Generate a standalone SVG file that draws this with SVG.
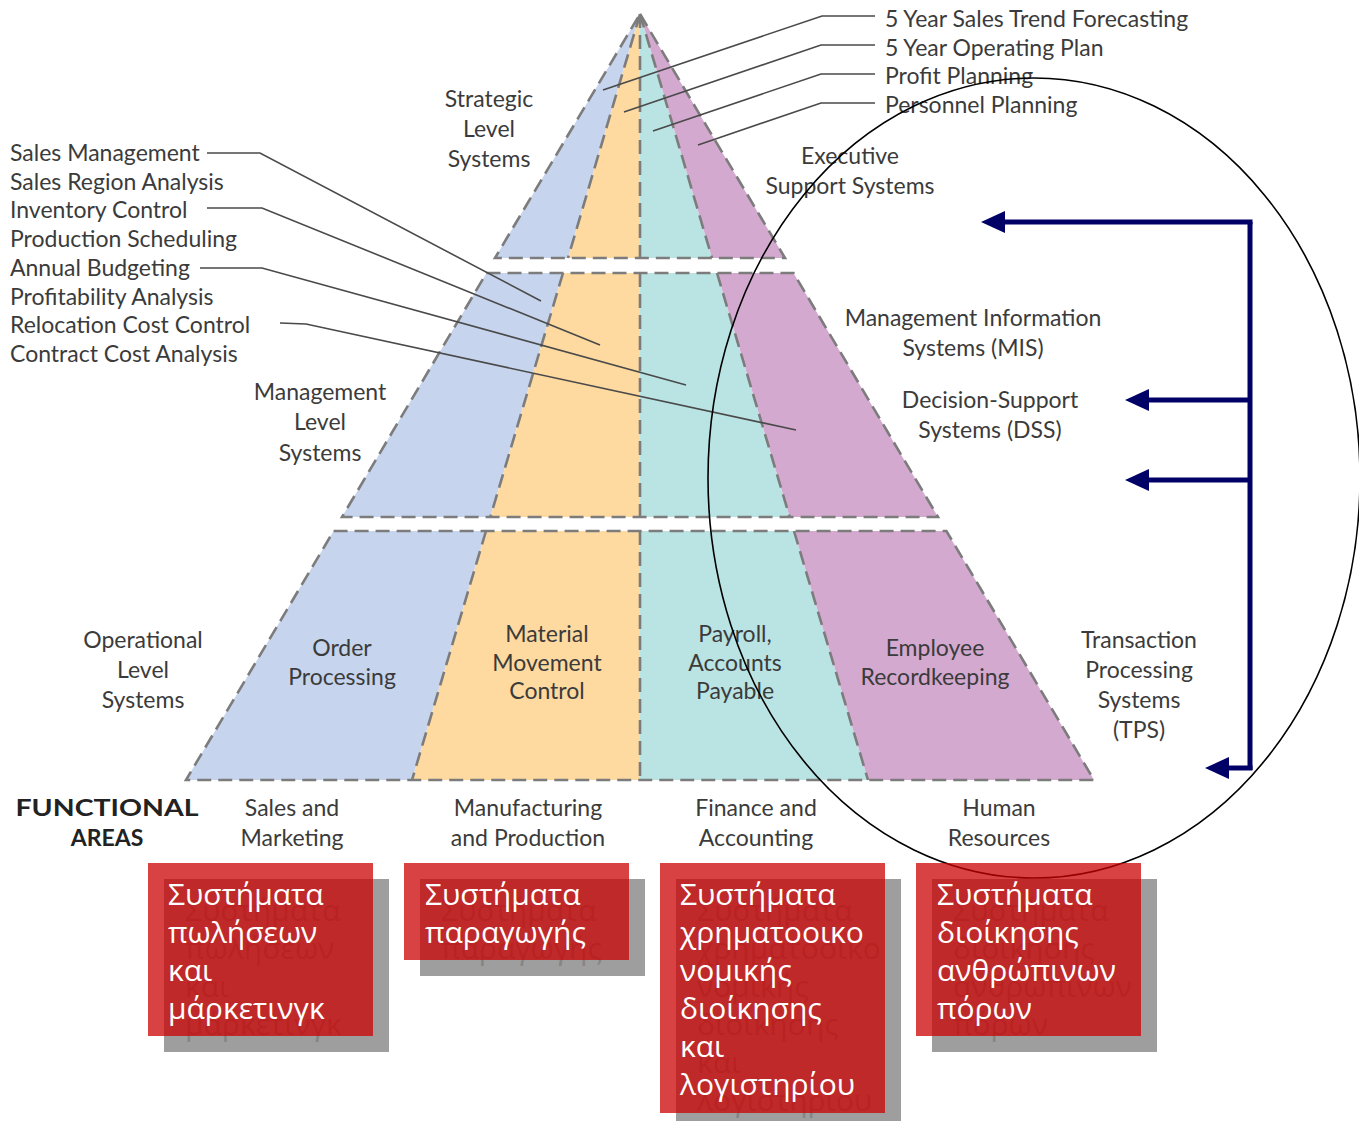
<svg xmlns="http://www.w3.org/2000/svg" width="1359" height="1121" viewBox="0 0 1359 1121">
<defs>
<style>
.t{font-family:Lato,"Liberation Sans",sans-serif;font-size:23px;fill:#3b3b3b}
.tm{text-anchor:middle}
.b{font-weight:bold;fill:#222}
.dash{fill:none;stroke:#7c7c7c;stroke-width:2.6;stroke-dasharray:14 7}
.blue{fill:#c6d4ed}
.orange{fill:#fed9a0}
.teal{fill:#bae3e3}
.purple{fill:#d4a9d0}
.lead{fill:none;stroke:#4a4a4a;stroke-width:1.6}
.nav{fill:none;stroke:#000066;stroke-width:5}
.shadow{fill:#9e9e9e}
.shtxt{font-family:"Open Sans","Noto Sans",sans-serif;font-size:30px;fill:#858585}
.red{fill:#cc0000;fill-opacity:0.74}
.wtxt{font-family:"Open Sans","Noto Sans",sans-serif;font-size:30px;fill:#ffffff}
</style>
<marker id="ah" markerWidth="24" markerHeight="22" refX="4" refY="11" orient="auto" markerUnits="userSpaceOnUse">
<path d="M0,0 L24,11 L0,22 z" fill="#000066"/>
</marker>
</defs>
<rect width="1359" height="1121" fill="#ffffff"/>

<g id="tier-strategic">
<polygon class="blue" points="640,14 495,258 568,258"/>
<polygon class="orange" points="640,14 568,258 640,258"/>
<polygon class="teal" points="640,14 640,258 712,258"/>
<polygon class="purple" points="640,14 712,258 785,258"/>
<polygon class="dash" points="640,14 785,258 495,258"/>
<path class="dash" d="M640,14 L568,258 M640,14 L640,258 M640,14 L712,258"/>
</g>

<g id="tier-management">
<polygon class="blue" points="486.5,273 563,273 490.3,517 342,517"/>
<polygon class="orange" points="563,273 640,273 640,517 490.3,517"/>
<polygon class="teal" points="640,273 717,273 789.7,517 640,517"/>
<polygon class="purple" points="717,273 793.5,273 938,517 789.7,517"/>
<polygon class="dash" points="486.5,273 793.5,273 938,517 342,517"/>
<path class="dash" d="M563,273 L490.3,517 M640,273 L640,517 M717,273 L789.7,517"/>
</g>

<g id="tier-operational">
<polygon class="blue" points="333.6,531 486,531 412,780 186,780"/>
<polygon class="orange" points="486,531 640,531 640,780 412,780"/>
<polygon class="teal" points="640,531 794,531 868,780 640,780"/>
<polygon class="purple" points="794,531 946.4,531 1094,780 868,780"/>
<polygon class="dash" points="333.6,531 946.4,531 1094,780 186,780"/>
<path class="dash" d="M486,531 L412,780 M640,531 L640,780 M794,531 L868,780"/>
</g>

<g id="label-strategic" class="t tm">
<text x="489" y="107">Strategic</text>
<text x="489" y="137">Level</text>
<text x="489" y="167">Systems</text>
</g>
<g id="label-ess" class="t tm">
<text x="850" y="164">Executive</text>
<text x="850" y="194">Support Systems</text>
</g>
<g id="label-mis" class="t tm">
<text x="973" y="326">Management Information</text>
<text x="973" y="356">Systems (MIS)</text>
</g>
<g id="label-dss" class="t tm">
<text x="990" y="408">Decision-Support</text>
<text x="990" y="438">Systems (DSS)</text>
</g>
<g id="label-management" class="t tm">
<text x="320" y="400">Management</text>
<text x="320" y="430">Level</text>
<text x="320" y="461">Systems</text>
</g>
<g id="label-operational" class="t tm">
<text x="143" y="648">Operational</text>
<text x="143" y="678">Level</text>
<text x="143" y="708">Systems</text>
</g>
<g id="label-tps" class="t tm">
<text x="1139" y="648">Transaction</text>
<text x="1139" y="678">Processing</text>
<text x="1139" y="708">Systems</text>
<text x="1139" y="738">(TPS)</text>
</g>
<g id="cell-order" class="t tm">
<text x="342" y="656">Order</text>
<text x="342" y="685">Processing</text>
</g>
<g id="cell-material" class="t tm">
<text x="547" y="642">Material</text>
<text x="547" y="671">Movement</text>
<text x="547" y="699">Control</text>
</g>
<g id="cell-payroll" class="t tm">
<text x="735" y="642">Payroll,</text>
<text x="735" y="671">Accounts</text>
<text x="735" y="699">Payable</text>
</g>
<g id="cell-employee" class="t tm">
<text x="935" y="656">Employee</text>
<text x="935" y="685">Recordkeeping</text>
</g>

<g id="functional-areas" class="t tm">
<text class="b" x="107" y="816" textLength="183" lengthAdjust="spacingAndGlyphs">FUNCTIONAL</text>
<text class="b" x="107" y="846">AREAS</text>
<text x="292" y="816">Sales and</text>
<text x="292" y="846">Marketing</text>
<text x="528" y="816">Manufacturing</text>
<text x="528" y="846">and Production</text>
<text x="756" y="816">Finance and</text>
<text x="756" y="846">Accounting</text>
<text x="999" y="816">Human</text>
<text x="999" y="846">Resources</text>
</g>

<g id="list-strategic" class="t">
<text x="885" y="27">5 Year Sales Trend Forecasting</text>
<text x="885" y="56">5 Year Operating Plan</text>
<text x="885" y="84">Profit Planning</text>
<text x="885" y="113">Personnel Planning</text>
</g>
<g id="list-management" class="t">
<text x="10" y="161">Sales Management</text>
<text x="10" y="190">Sales Region Analysis</text>
<text x="10" y="218">Inventory Control</text>
<text x="10" y="247">Production Scheduling</text>
<text x="10" y="276">Annual Budgeting</text>
<text x="10" y="305">Profitability Analysis</text>
<text x="10" y="333">Relocation Cost Control</text>
<text x="10" y="362">Contract Cost Analysis</text>
</g>

<g id="connectors">
<path class="lead" d="M875,16 L822,16 L603,90"/>
<path class="lead" d="M875,45 L821,45 L624,112"/>
<path class="lead" d="M875,74 L821,74 L653,131"/>
<path class="lead" d="M875,103 L821,103 L698,145"/>
<path class="lead" d="M207,153 L260,153 L541,301"/>
<path class="lead" d="M207,208 L262,208 L600,345"/>
<path class="lead" d="M200,268 L262,268 L686,385"/>
<path class="lead" d="M280,323 L306,324 L796,430"/>
<path class="nav" d="M1250,222 L1250,770"/>
<path class="nav" d="M1252.5,222 L1001,222" marker-end="url(#ah)"/>
<path class="nav" d="M1250,400 L1145,400" marker-end="url(#ah)"/>
<path class="nav" d="M1250,480 L1145,480" marker-end="url(#ah)"/>
<path class="nav" d="M1252.5,768 L1225,768" marker-end="url(#ah)"/>
</g>

<g id="highlight-ellipse">
<ellipse cx="1034" cy="478" rx="326" ry="400" fill="none" stroke="#000" stroke-width="1.6"/>
</g>

<g id="box-sales">
<rect class="shadow" x="164" y="879" width="225" height="173"/>
<g class="shtxt"><text x="185" y="921">Συστήματα</text><text x="185" y="959">πωλήσεων</text><text x="185" y="997">και</text><text x="185" y="1035">μάρκετινγκ</text></g>
<rect class="red" x="148" y="863" width="225" height="173"/>
<g class="wtxt"><text x="168" y="905">Συστήματα</text><text x="168" y="943">πωλήσεων</text><text x="168" y="981">και</text><text x="168" y="1019">μάρκετινγκ</text></g>
</g>
<g id="box-production">
<rect class="shadow" x="420" y="879" width="225" height="97"/>
<g class="shtxt"><text x="441" y="921">Συστήματα</text><text x="441" y="959">παραγωγής</text></g>
<rect class="red" x="404" y="863" width="225" height="97"/>
<g class="wtxt"><text x="425" y="905">Συστήματα</text><text x="425" y="943">παραγωγής</text></g>
</g>
<g id="box-finance">
<rect class="shadow" x="676" y="879" width="225" height="250"/>
<g class="shtxt"><text x="697" y="921">Συστήματα</text><text x="697" y="959">χρηματοοικο</text><text x="697" y="997">νομικής</text><text x="697" y="1035">διοίκησης</text><text x="697" y="1073">και</text><text x="697" y="1111">λογιστηρίου</text></g>
<rect class="red" x="660" y="863" width="225" height="250"/>
<g class="wtxt"><text x="680" y="905">Συστήματα</text><text x="680" y="943">χρηματοοικο</text><text x="680" y="981">νομικής</text><text x="680" y="1019">διοίκησης</text><text x="680" y="1057">και</text><text x="680" y="1095">λογιστηρίου</text></g>
</g>
<g id="box-hr">
<rect class="shadow" x="932" y="879" width="225" height="173"/>
<g class="shtxt"><text x="953" y="921">Συστήματα</text><text x="953" y="959">διοίκησης</text><text x="953" y="997">ανθρώπινων</text><text x="953" y="1035">πόρων</text></g>
<rect class="red" x="916" y="863" width="225" height="173"/>
<g class="wtxt"><text x="937" y="905">Συστήματα</text><text x="937" y="943">διοίκησης</text><text x="937" y="981">ανθρώπινων</text><text x="937" y="1019">πόρων</text></g>
</g>
</svg>
